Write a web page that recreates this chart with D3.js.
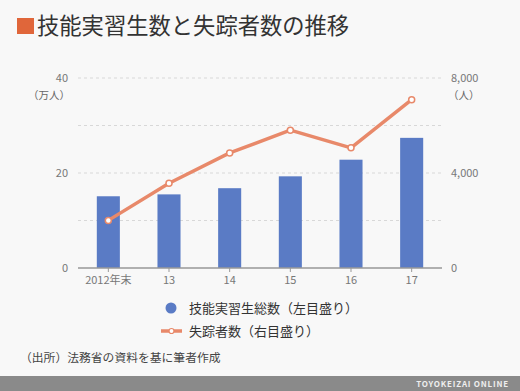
<!DOCTYPE html>
<html><head><meta charset="utf-8">
<script src="https://cdn.jsdelivr.net/npm/d3@7"></script>
<style>
html,body{margin:0;padding:0;background:#f8f8f8;}
svg{display:block;}
text{font-family:"Noto Sans CJK JP","Noto Sans",sans-serif;}
</style></head>
<body>
<svg id="c" width="520" height="391"></svg>
<script>
const categories = ["2012年末","13","14","15","16","17"];
const trainees = [15.1, 15.5, 16.8, 19.3, 22.8, 27.4];        // 万人 (left axis)
const missing = [2005, 3566, 4847, 5803, 5058, 7089];           // 人 (right axis)
const leftTicks = [0, 20, 40];
const rightTicks = [0, 4000, 8000];
const gridTicks = [10, 20, 30, 40];

const svg = d3.select("#c");
svg.append("rect").attr("width",520).attr("height",391).attr("fill","#f8f8f8");

const x = d3.scaleBand().domain(categories).range([78,442]).paddingInner(0.62).paddingOuter(0.31);
const yL = d3.scaleLinear().domain([0,40]).range([268,78]);
const yR = d3.scaleLinear().domain([0,8000]).range([268,78]);

// title
svg.append("rect").attr("x",17).attr("y",18).attr("width",17).attr("height",16).attr("fill","#e0663a");
svg.append("text").attr("x",37).attr("y",34).attr("font-size",22.3).attr("fill","#333").text("技能実習生数と失踪者数の推移");

// grid
svg.append("g").selectAll("line").data(gridTicks).join("line")
  .attr("x1",78).attr("x2",442).attr("y1",d=>yL(d)).attr("y2",d=>yL(d))
  .attr("stroke","#d8d8d8").attr("stroke-dasharray","3,3").attr("stroke-width",1);

// left axis
const gL = svg.append("g").attr("transform","translate(68,0)")
  .call(d3.axisLeft(yL).tickValues(leftTicks).tickSize(0).tickPadding(0));
gL.select(".domain").remove();
gL.selectAll("text").attr("font-size",11).attr("fill","#777").attr("font-family","Roboto,'Noto Sans',sans-serif");
svg.append("text").attr("x",70).attr("y",99).attr("text-anchor","end").attr("font-size",10.5).attr("fill","#666").text("（万人）");

// right axis
const gR = svg.append("g").attr("transform","translate(451,0)")
  .call(d3.axisRight(yR).tickValues(rightTicks).tickSize(0).tickPadding(0).tickFormat(d3.format(",")));
gR.select(".domain").remove();
gR.selectAll("text").attr("font-size",11).attr("fill","#777").attr("font-family","Roboto,'Noto Sans',sans-serif");
svg.append("text").attr("x",448).attr("y",99).attr("font-size",10.5).attr("fill","#666").text("（人）");

// bars
svg.append("g").selectAll("rect").data(trainees).join("rect")
  .attr("x",(d,i)=>x(categories[i])).attr("width",x.bandwidth())
  .attr("y",d=>yL(d)).attr("height",d=>yL(0)-yL(d)).attr("fill","#5a7bc5");

// bottom axis
const gB = svg.append("g").attr("transform","translate(0,268)")
  .call(d3.axisBottom(x).tickSize(4).tickPadding(4));
gB.select(".domain").attr("stroke","#999").attr("stroke-width",1.5).attr("d","M78,0H442");
gB.selectAll(".tick line").attr("stroke","#999");
gB.selectAll("text").attr("font-size",11).attr("fill","#777").attr("font-family","Roboto,'Noto Sans CJK JP',sans-serif");

// line
const cx = (i)=>x(categories[i])+x.bandwidth()/2;
const line = d3.line().x((d,i)=>cx(i)).y(d=>yR(d));
svg.append("path").datum(missing).attr("d",line).attr("fill","none")
  .attr("stroke","#e8896a").attr("stroke-width",3.5).attr("stroke-linejoin","round");
svg.append("g").selectAll("circle").data(missing).join("circle")
  .attr("cx",(d,i)=>cx(i)).attr("cy",d=>yR(d)).attr("r",3)
  .attr("fill","#fff").attr("stroke","#e8896a").attr("stroke-width",1.5);

// legend
svg.append("circle").attr("cx",171).attr("cy",308).attr("r",5.5).attr("fill","#5a7bc5");
svg.append("text").attr("x",189).attr("y",312.5).attr("font-size",13).attr("fill","#333").text("技能実習生総数（左目盛り）");
svg.append("line").attr("x1",161).attr("x2",182).attr("y1",331).attr("y2",331).attr("stroke","#e8896a").attr("stroke-width",3.5);
svg.append("circle").attr("cx",171.5).attr("cy",331).attr("r",2.5).attr("fill","#fff").attr("stroke","#e8896a").attr("stroke-width",1.2);
svg.append("text").attr("x",189).attr("y",335.5).attr("font-size",13).attr("fill","#333").text("失踪者数（右目盛り）");

// source
svg.append("text").attr("x",20).attr("y",362).attr("font-size",11.8).attr("fill","#444").text("（出所）法務省の資料を基に筆者作成");

// footer
svg.append("rect").attr("x",0).attr("y",376).attr("width",520).attr("height",15).attr("fill","#8a8a8a");
svg.append("text").attr("x",509).attr("y",387).attr("text-anchor","end").attr("font-size",8).attr("font-weight","bold")
  .attr("letter-spacing",0.8).attr("fill","#eee").attr("font-family","'DejaVu Sans',sans-serif").text("TOYOKEIZAI ONLINE");
</script>
</body></html>
